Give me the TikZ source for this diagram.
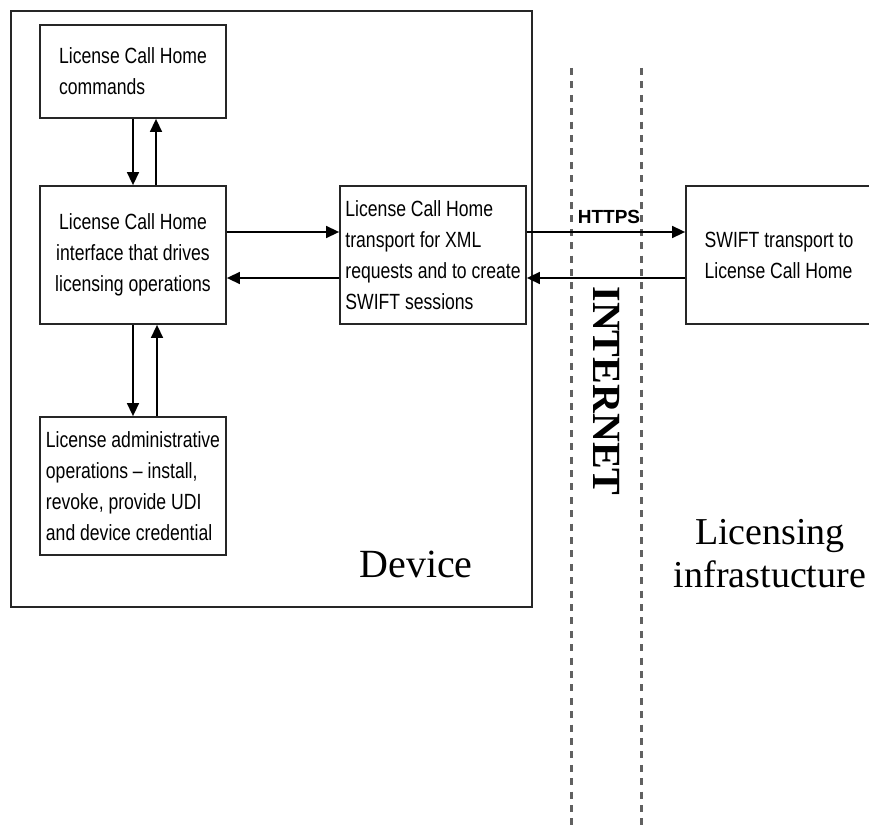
\documentclass[tikz,border=0pt]{standalone}
\usepackage{fontspec}
\newfontfamily\boxfont[FakeStretch=0.8,Ligatures=TeX]{Liberation Sans}
\newfontfamily\plainsans{Liberation Sans}
\newfontfamily\labelserif{Liberation Serif}
\usetikzlibrary{arrows.meta}
\begin{document}
\begin{tikzpicture}[x=1pt,y=-1pt,
  boxstyle/.style={draw=black!85, line width=1.8pt, rectangle, inner sep=0pt,
    minimum width=186pt, minimum height=138pt,
    font=\boxfont\fontsize{22}{31}\selectfont},
  link/.style={draw=black, line width=1.5pt, -{Triangle[length=13pt,width=12pt]}},
  sepline/.style={draw=black!62, line width=3pt, dash pattern=on 7pt off 6.4pt}
]
\useasboundingbox (0,0) rectangle (869,829);
\clip (0,0) rectangle (869,829);
% separators
\coordinate (s1top) at (571,68);
\coordinate (s1bot) at (571,829);
\coordinate (s2top) at (641,68);
\coordinate (s2bot) at (641,829);
\draw[sepline] (s1top) -- (s1bot);
\draw[sepline] (s2top) -- (s2bot);
% device frame
\node[draw=black!85, line width=1.8pt, rectangle, inner sep=0pt,
  minimum width=521pt, minimum height=596pt, anchor=north west] (device) at (10,10) {};
% boxes
\node[boxstyle, minimum height=93pt, align=left] (commands) at (133,71.5)
  {License Call Home\\commands};
\node[boxstyle, align=center] (interface) at (133,255)
  {License Call Home\\interface that drives\\licensing operations};
\node[boxstyle, align=left] (admin) at (133,486)
  {License administrative\\operations – install,\\revoke, provide UDI\\and device credential};
\node[boxstyle, fill=white, align=left] (transport) at (433,255)
  {License Call Home\\transport for XML\\requests and to create\\SWIFT sessions};
\node[boxstyle, fill=white, align=left] (swift) at (779,255)
  {SWIFT transport to\\License Call Home};
% arrows
\draw[link] (commands.south) -- (interface.north);
\draw[link] ([xshift=23pt]interface.north) -- ([xshift=23pt]commands.south);
\draw[link] (interface.south) -- (admin.north);
\draw[link] ([xshift=24pt]admin.north) -- ([xshift=24pt]interface.south);
\draw[link] ([yshift=23pt]interface.east) -- ([yshift=23pt]transport.west);
\draw[link] ([yshift=-23pt]transport.west) -- ([yshift=-23pt]interface.east);
\draw[link] ([yshift=23pt]transport.east) -- ([yshift=23pt]swift.west);
\draw[link] ([yshift=-23pt]swift.west) -- ([yshift=-23pt]transport.east);
% labels
\node[font=\plainsans\bfseries\fontsize{19}{20}\selectfont, inner sep=0pt] (https) at (609,217) {HTTPS};
\node[font=\labelserif\bfseries\fontsize{40}{40}\selectfont, rotate=-90, inner sep=0pt] (internet) at (607,391) {INTERNET};
\node[font=\labelserif\fontsize{40}{48}\selectfont, anchor=base, inner sep=0pt] (devlabel) at (416,577) {Device};
\node[font=\labelserif\fontsize{38}{43}\selectfont, align=center, inner sep=0pt] (infra) at (770,554) {Licensing\\infrastucture};
\end{tikzpicture}
\end{document}
